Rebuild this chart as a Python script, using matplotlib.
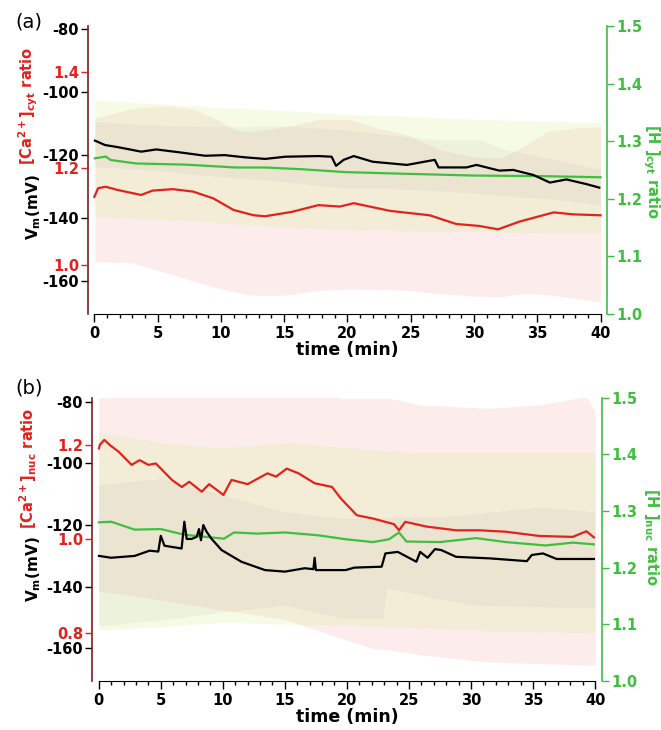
import matplotlib.pyplot as plt
from matplotlib.ticker import MultipleLocator

plt.rcParams["font.family"] = "DejaVu Sans"
plt.rcParams["font.weight"] = "bold"
plt.rcParams["axes.labelweight"] = "bold"
plt.rcParams["axes.unicode_minus"] = False
plt.rcParams["mathtext.fontset"] = "dejavusans"

RED = "#e0231c"
GREEN = "#3fbf3f"
SPINE = "#7a1f1f"

# ---- panel (a): cytosol ----
ta_vm = [0.05, 0.84, 1.9, 3.7, 4.9, 6.9, 8.75, 10.3, 11.9, 13.5, 15.1, 17.7, 18.75, 19.1,
         19.7, 20.5, 22.0, 24.7, 26.9, 27.2, 29.4, 30.2, 32.0, 33.1, 34.7, 36.0, 37.3, 38.9, 39.9]
vm_a = [-115.5, -116.9, -117.6, -119.0, -118.3, -119.3, -120.3, -120.1, -120.8, -121.3, -120.6,
        -120.4, -120.6, -123.5, -121.6, -120.4, -122.2, -123.2, -121.6, -124.0, -124.0, -123.2,
        -125.0, -124.8, -126.4, -128.8, -127.8, -129.3, -130.4]

ta_ca = [0.0, 0.3, 0.9, 1.9, 3.7, 4.6, 6.2, 7.8, 9.4, 11.0, 12.6, 13.5, 15.6, 17.7, 19.4, 20.5,
         23.4, 26.5, 28.6, 30.4, 31.9, 33.6, 36.3, 37.8, 40.0]
ca_a = [1.141, 1.159, 1.162, 1.155, 1.145, 1.154, 1.157, 1.152, 1.138, 1.114, 1.103, 1.101, 1.110,
        1.124, 1.121, 1.128, 1.112, 1.103, 1.085, 1.081, 1.074, 1.090, 1.109, 1.105, 1.103]

ta_h = [0.05, 0.9, 1.3, 3.3, 7.2, 11.2, 13.5, 16.4, 19.8, 24.7, 30.0, 35.3, 40.0]
h_a = [1.270, 1.273, 1.267, 1.261, 1.259, 1.254, 1.254, 1.251, 1.246, 1.243, 1.240, 1.239, 1.237]

# error bands (a)
ta_ca_band = [0.05, 3.0, 5.85, 7.95, 9.8, 11.1, 12.4, 15.1, 17.7, 20.2, 22.0, 24.7, 27.3, 30.0,
              32.1, 33.9, 35.8, 37.9, 40.0]
ca_a_hi = [1.303, 1.324, 1.329, 1.321, 1.300, 1.279, 1.276, 1.286, 1.301, 1.301, 1.286, 1.269,
           1.238, 1.224, 1.221, 1.245, 1.276, 1.283, 1.286]
ca_a_lo = [1.007, 1.005, 0.983, 0.966, 0.952, 0.945, 0.938, 0.938, 0.948, 0.951, 0.950, 0.948,
           0.941, 0.936, 0.935, 0.941, 0.939, 0.932, 0.924]

ta_vm_band = [0.05, 4.5, 9.8, 15.1, 19.8, 23.3, 27.3, 30.5, 32.6, 36.5, 40.0]
vm_a_hi = [-109.5, -110.6, -111.1, -110.9, -112.1, -113.7, -115.3, -115.3, -118.5, -121.6, -124.8]
vm_a_lo = [-123.8, -124.8, -126.9, -128.5, -130.6, -130.6, -131.4, -132.3, -133.0, -134.1, -135.9]

ta_h_band = [0.05, 7.2, 10.0, 15.1, 19.6, 30.0, 40.0]
h_a_hi = [1.371, 1.362, 1.358, 1.353, 1.347, 1.338, 1.332]
h_a_lo = [1.168, 1.162, 1.158, 1.150, 1.146, 1.142, 1.139]

# ---- panel (b): nucleus ----
tb_vm = [0.02, 1.0, 2.9, 4.1, 4.8, 5.0, 5.3, 6.68, 6.9, 7.09, 7.49, 7.9, 8.08, 8.24, 8.43, 8.7,
         9.1, 9.9, 11.5, 13.4, 15.0, 16.6, 17.3, 17.4, 17.5, 19.9, 20.6, 22.8, 23.1, 24.1, 25.6,
         25.9, 26.5, 27.1, 27.6, 28.8, 31.5, 34.5, 34.9, 35.8, 36.9, 39.9]
vm_b = [-130.0, -130.6, -130.0, -128.3, -128.6, -123.5, -126.7, -127.6, -118.9, -124.5, -124.5,
        -123.8, -121.3, -124.9, -120.0, -122.2, -124.5, -128.1, -131.9, -134.6, -135.1, -134.0,
        -134.3, -130.6, -134.6, -134.6, -133.8, -133.5, -129.2, -128.7, -131.9, -128.7, -130.6,
        -127.8, -128.1, -130.3, -130.8, -131.7, -129.7, -129.2, -131.0, -131.0]

tb_ca = [0.02, 0.1, 0.45, 0.9, 1.6, 2.65, 3.3, 4.0, 4.6, 5.9, 6.7, 7.3, 8.3, 8.9, 10.05, 10.7,
         12.0, 13.6, 14.3, 15.15, 16.1, 17.4, 18.8, 19.5, 20.0, 20.8, 22.1, 23.8, 24.2, 24.7,
         26.4, 28.8, 30.7, 32.8, 35.5, 38.2, 39.3, 39.9]
ca_b = [1.193, 1.201, 1.211, 1.200, 1.186, 1.158, 1.168, 1.158, 1.161, 1.126, 1.111, 1.122, 1.101,
        1.117, 1.094, 1.126, 1.117, 1.140, 1.133, 1.150, 1.140, 1.119, 1.111, 1.087, 1.073, 1.051,
        1.044, 1.032, 1.019, 1.037, 1.027, 1.019, 1.019, 1.016, 1.007, 1.005, 1.017, 1.004]

tb_h = [0.02, 1.0, 2.9, 5.0, 6.9, 10.1, 10.9, 12.8, 15.0, 17.7, 19.9, 22.1, 23.4, 24.2, 24.8,
        27.5, 30.4, 32.8, 36.0, 38.2, 39.9]
h_b = [1.280, 1.281, 1.267, 1.268, 1.258, 1.251, 1.262, 1.260, 1.262, 1.257, 1.250, 1.245, 1.250,
       1.262, 1.246, 1.245, 1.252, 1.245, 1.239, 1.244, 1.241]

# error bands (b)
tb_ca_band = [0.0, 5.0, 10.0, 15.0, 17.5, 19.5, 22.0, 23.4, 26.1, 31.5, 35.5, 39.3, 40.0]
ca_b_hi = [1.45, 1.41, 1.35, 1.40, 1.36, 1.299, 1.299, 1.299, 1.285, 1.278, 1.285, 1.303, 1.271]
ca_b_lo = [0.89, 0.871, 0.85, 0.83, 0.807, 0.79, 0.769, 0.765, 0.754, 0.739, 0.736, 0.733, 0.733]

tb_vm_band = [0.0, 5.0, 10.0, 15.0, 19.5, 22.9, 23.2, 26.0, 27.5, 30.0, 35.5, 40.0]
vm_b_hi = [-107.0, -104.9, -110.3, -115.7, -117.8, -117.6, -117.5, -117.4, -117.3, -116.5, -114.1, -115.7]
vm_b_lo = [-152.7, -150.8, -148.2, -145.9, -150.1, -150.1, -140.4, -142.7, -144.0, -145.9, -146.5, -146.9]

tb_h_band = [0.0, 5.0, 10.0, 15.0, 19.9, 25.0, 30.0, 40.0]
h_b_hi = [1.439, 1.421, 1.412, 1.421, 1.412, 1.404, 1.404, 1.404]
h_b_lo = [1.089, 1.095, 1.103, 1.100, 1.098, 1.094, 1.089, 1.084]

vm_ticks = [-80, -100, -120, -140, -160]
h_ticks = [1.0, 1.1, 1.2, 1.3, 1.4, 1.5]


def draw_panel(fig, rect, xlim, vm_lim, ca_lim, ca_ticks, vm, ca, h):
    ax = fig.add_axes(rect)
    ax_ca = ax.twinx()
    ax_h = ax.twinx()

    # everything is drawn on the top axes, each series through its own scale
    (t_ca, ca_lo, ca_hi), (t_h, h_lo, h_hi), (t_vm, vm_lo, vm_hi) = ca[2], h[2], vm[2]
    ax_h.fill_between(t_ca, ca_lo, ca_hi, transform=ax_ca.transData,
                      color="#f08080", alpha=0.15, lw=0)
    ax_h.fill_between(t_h, h_lo, h_hi, transform=ax_h.transData,
                      color="#d2ec80", alpha=0.2, lw=0)
    ax_h.fill_between(t_vm, vm_lo, vm_hi, transform=ax.transData,
                      color="#8a8a8a", alpha=0.08, lw=0)
    ax_h.plot(ca[0], ca[1], color=RED, lw=1.6, transform=ax_ca.transData)
    ax_h.plot(h[0], h[1], color=GREEN, lw=1.6, transform=ax_h.transData)
    ax_h.plot(vm[0], vm[1], color="black", lw=1.6, transform=ax.transData)
    ax.set_xlim(*xlim)
    ax.set_ylim(*vm_lim)
    ax_ca.set_ylim(*ca_lim)
    ax_h.set_ylim(1.0, 1.5)

    # Vm axis (left, black)
    for s in ["top", "right"]:
        ax.spines[s].set_visible(False)
    ax.spines["left"].set_color(SPINE)
    ax.spines["left"].set_linewidth(1.2)
    ax.spines["bottom"].set_bounds(0, 40)
    ax.set_yticks(vm_ticks)
    ax.tick_params(axis="y", direction="out", length=5, width=1, labelsize=10.5, pad=1.5)
    ax.xaxis.set_major_locator(MultipleLocator(5))
    ax.xaxis.set_minor_locator(MultipleLocator(1))
    ax.tick_params(axis="x", which="major", direction="out", length=6, width=1,
                   labelsize=10.5, pad=3)
    ax.tick_params(axis="x", which="minor", direction="out", length=3, width=1)
    ax.set_xlabel("time (min)", fontsize=12.5, fontweight="bold", labelpad=0)

    # Ca axis (left, red)
    for s in ax_ca.spines.values():
        s.set_visible(False)
    ax_ca.yaxis.tick_left()
    ax_ca.set_yticks(ca_ticks)
    ax_ca.tick_params(axis="y", colors=RED, length=5, width=1, labelsize=10.5, pad=1.5)

    # H axis (right, green)
    for s in ["left", "top", "bottom"]:
        ax_h.spines[s].set_visible(False)
    ax_h.spines["right"].set_color(GREEN)
    ax_h.spines["right"].set_linewidth(1.2)
    ax_h.set_yticks(h_ticks)
    ax_h.tick_params(axis="y", colors=GREEN, length=5, width=1, labelsize=10.5, pad=1.5)
    return ax


fig = plt.figure(figsize=(6.61, 7.30), dpi=100)

draw_panel(fig, [0.1331, 0.5705, 0.7852, 0.3938], (-0.50, 40.51), (-170.3, -79.2),
           (0.900, 1.494), [1.0, 1.2, 1.4],
           (ta_vm, vm_a, (ta_vm_band, vm_a_lo, vm_a_hi)),
           (ta_ca, ca_a, (ta_ca_band, ca_a_lo, ca_a_hi)),
           (ta_h, h_a, (ta_h_band, h_a_lo, h_a_hi)))

draw_panel(fig, [0.1392, 0.0678, 0.7716, 0.3870], (-0.54, 40.56), (-170.4, -78.8),
           (0.70, 1.30), [0.8, 1.0, 1.2],
           (tb_vm, vm_b, (tb_vm_band, vm_b_lo, vm_b_hi)),
           (tb_ca, ca_b, (tb_ca_band, ca_b_lo, ca_b_hi)),
           (tb_h, h_b, (tb_h_band, h_b_lo, h_b_hi)))

W, H = 661, 730
fig.text(29 / W, 1 - 22 / H, "(a)", fontsize=14, fontweight="normal", ha="center", va="center")
fig.text(29 / W, 1 - 388 / H, "(b)", fontsize=14, fontweight="normal", ha="center", va="center")

fig.text(28 / W, 1 - 106 / H, r"[Ca$^{\mathbf{2+}}$]$_{\mathbf{cyt}}$ ratio", rotation=90,
         color=RED, fontsize=10.5, ha="center", va="center")
fig.text(34 / W, 1 - 207 / H, r"V$_{\mathbf{m}}$(mV)", rotation=90,
         fontsize=11, ha="center", va="center")
fig.text(651 / W, 1 - 171 / H, r"[H ]$_{\mathbf{cyt}}$ ratio", rotation=270,
         color=GREEN, fontsize=10.5, ha="center", va="center")

fig.text(28 / W, 1 - 468 / H, r"[Ca$^{\mathbf{2+}}$]$_{\mathbf{nuc}}$ ratio", rotation=90,
         color=RED, fontsize=10.5, ha="center", va="center")
fig.text(34 / W, 1 - 569 / H, r"V$_{\mathbf{m}}$(mV)", rotation=90,
         fontsize=11, ha="center", va="center")
fig.text(651 / W, 1 - 537 / H, r"[H ]$_{\mathbf{nuc}}$ ratio", rotation=270,
         color=GREEN, fontsize=10.5, ha="center", va="center")

fig.savefig("out.png", dpi=100)
